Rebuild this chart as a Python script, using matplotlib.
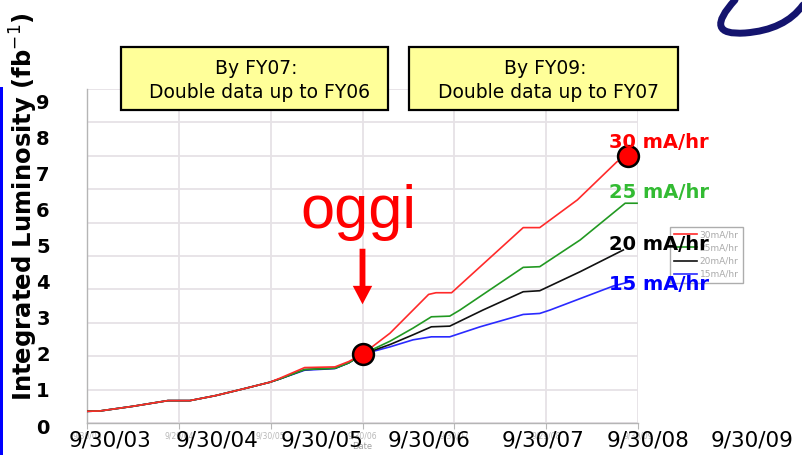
import matplotlib
matplotlib.use("Agg")
import matplotlib.pyplot as plt
from matplotlib.patches import Rectangle, PathPatch
from matplotlib.path import Path
from matplotlib import font_manager

# ---------------- data ----------------
start_year = 2003.75
tick_years = [2003.75, 2004.75, 2005.75, 2006.75, 2007.75, 2008.75, 2009.75]
inner_tick_labels = ["9/30/03", "9/29/04", "9/30/05", "9/30/06", "9/30/07", "9/29/08", "9/30/09"]
overlay_date_labels = ["9/30/03", "9/30/04", "9/30/05", "9/30/06", "9/30/07", "9/30/08", "9/30/09"]
y_labels = ["0", "1", "2", "3", "4", "5", "6", "7", "8", "9"]

# years elapsed since 9/30/03
red_t = [0, 0.14, 0.5, 0.88, 1.12, 1.4, 1.7, 1.99, 2.1, 2.37, 2.7, 2.85, 3.0,
         3.3, 3.55, 3.72, 3.8, 3.97, 4.75, 4.93, 5.34, 5.77, 5.89]
red_v = [0.35, 0.36, 0.5, 0.67, 0.67, 0.82, 1.02, 1.22, 1.34, 1.66, 1.68, 1.84, 2.06,
         2.69, 3.38, 3.85, 3.9, 3.9, 5.85, 5.85, 6.68, 7.82, 8.0]

green_t = [0, 0.14, 0.5, 0.88, 1.12, 1.4, 1.7, 1.99, 2.1, 2.37, 2.7, 2.85, 3.0,
           3.3, 3.55, 3.75, 3.95, 4.06, 4.75, 4.93, 5.37, 5.86, 5.99]
green_v = [0.35, 0.36, 0.5, 0.67, 0.67, 0.82, 1.02, 1.22, 1.32, 1.6, 1.64, 1.8, 2.06,
           2.45, 2.84, 3.18, 3.2, 3.38, 4.66, 4.68, 5.48, 6.58, 6.58]

black_t = [0, 0.14, 0.5, 0.88, 1.12, 1.4, 1.7, 1.99, 2.1, 2.37, 2.7, 2.85, 3.0,
           3.3, 3.55, 3.75, 3.95, 4.31, 4.75, 4.93, 5.37, 5.84]
black_v = [0.35, 0.36, 0.5, 0.67, 0.67, 0.82, 1.02, 1.22, 1.32, 1.6, 1.64, 1.8, 2.06,
           2.35, 2.64, 2.88, 2.9, 3.38, 3.93, 3.96, 4.53, 5.18]

blue_t = [0, 0.14, 0.5, 0.88, 1.12, 1.4, 1.7, 1.99, 2.1, 2.37, 2.7, 2.85, 3.0,
          3.3, 3.55, 3.75, 3.95, 4.28, 4.75, 4.93, 5.04, 5.73, 5.90]
blue_v = [0.35, 0.36, 0.5, 0.67, 0.67, 0.82, 1.02, 1.22, 1.32, 1.58, 1.63, 1.8, 2.06,
          2.28, 2.49, 2.58, 2.58, 2.88, 3.25, 3.28, 3.38, 4.1, 4.22]

series_names = ["30mA/hr", "25mA/hr", "20mA/hr", "15mA/hr"]
rate_labels = ["30 mA/hr", "25 mA/hr", "20 mA/hr", "15 mA/hr"]

today_t, today_v = 3.0, 2.06       # "oggi" point
end_t, end_v = 5.89, 8.0           # end of 30 mA/hr curve

# ---------------- figure ----------------
W, H = 803, 458
fig = plt.figure(figsize=(W / 100, H / 100), dpi=100)
fig.patch.set_facecolor("white")

def fx(px):
    return px / W

def fy(py):
    return 1 - py / H

ax = fig.add_axes([fx(87), fy(423), (638 - 87) / W, (423 - 89) / H])
ax.set_xlim(tick_years[0], tick_years[-1])
ax.set_ylim(0, 10)

line_colors = ["#ff2a2a", "#229922", "#111111", "#2a2aff"]
data = [(red_t, red_v), (green_t, green_v), (black_t, black_v), (blue_t, blue_v)]
handles = []
for i in [3, 2, 1, 0]:
    t, v = data[i]
    xs = [start_year + a for a in t]
    h, = ax.plot(xs, v, color=line_colors[i], lw=1.2, label=series_names[i],
                 solid_joinstyle="round", zorder=3 + (3 - i))
    handles.append(h)
handles = handles[::-1]

ax.set_xticks(tick_years)
ax.set_xticklabels(inner_tick_labels, fontsize=5.5, color="#b8b8b8")
ax.set_yticks(range(0, 11))
ax.set_yticklabels([])
ax.tick_params(axis="x", direction="out", length=4, color="#b8b8b8", pad=2)
ax.tick_params(axis="y", length=0)
ax.grid(True, color="#e6e2e6", lw=1.3, zorder=0)
ax.set_axisbelow(True)
for s in ["top", "right"]:
    ax.spines[s].set_visible(False)
for s in ["left", "bottom"]:
    ax.spines[s].set_color("#b5b5b5")
    ax.spines[s].set_linewidth(1.0)
ax.set_xlabel("Date", fontsize=6, color="#a0a0a0", labelpad=1)

# red dots with black edge
ax.plot([start_year + today_t, start_year + end_t], [today_v, end_v], "o",
        ms=15, mfc="#ff0000", mec="black", mew=1.8, zorder=10, clip_on=False)

# inner legend
leg = fig.legend(handles, series_names, loc="upper left",
                 bbox_to_anchor=(fx(665), fy(222)), fontsize=6.5,
                 frameon=True, fancybox=False, edgecolor="#999999",
                 handlelength=2.6, borderpad=0.45, labelspacing=0.45,
                 handletextpad=0.3)
leg.get_frame().set_linewidth(1.0)
for txt in leg.get_texts():
    txt.set_color("#aaaaaa")
leg.set_zorder(1)

# oggi text and arrow
try:
    font_manager.findfont("Liberation Sans Narrow", fallback_to_default=False)
    oggi_family, oggi_size = "Liberation Sans Narrow", 50
except Exception:
    oggi_family, oggi_size = "Liberation Sans", 44
ax.text(start_year + today_t - 0.04, 5.84, "oggi", ha="center", va="baseline",
        color="#ff0000", fontsize=oggi_size, family=oggi_family, zorder=12)
ax.annotate("", xy=(start_year + today_t, 3.47), xytext=(start_year + today_t, 5.3),
            arrowprops=dict(arrowstyle="simple,tail_width=0.3,head_width=1.0,head_length=0.95",
                            mutation_scale=14, color="#ff0000", lw=0),
            zorder=12)

# rate labels (figure pixel positions)
rate_colors = ["#ff0000", "#33bb33", "#000000", "#0000ff"]
rate_y = [143, 193, 244, 284]
for lab, c, yy in zip(rate_labels, rate_colors, rate_y):
    fig.text(fx(609), fy(yy), lab, color=c, fontsize=14, fontweight="bold",
             ha="left", va="center", zorder=20)

# yellow boxes
boxes = [(121, 388, "By FY07:", " Double data up to FY06"),
         (409, 678, "By FY09:", " Double data up to FY07")]
for x0, x1, l1, l2 in boxes:
    r = Rectangle((fx(x0), fy(110)), (x1 - x0) / W, (110 - 47) / H,
                  transform=fig.transFigure, facecolor="#ffff99",
                  edgecolor="black", lw=1.6, zorder=15)
    fig.add_artist(r)
    xc = (x0 + x1) / 2 + 2
    fig.text(fx(xc), fy(68), l1, ha="center", va="center", fontsize=13.5, zorder=16)
    fig.text(fx(xc), fy(93), l2, ha="center", va="center", fontsize=13.5, zorder=16)

# overlay y tick digits
for i, lab in enumerate(y_labels):
    ypix = 428 - i * 36.1
    fig.text(fx(43), fy(ypix), lab, ha="center", va="center", fontsize=14,
             fontweight="bold", zorder=20)

# overlay date labels
date_centers = [110, 217, 322, 429, 543, 648, 752]
for xc, lab in zip(date_centers, overlay_date_labels):
    fig.text(fx(xc), fy(441), lab, ha="center", va="center", fontsize=15.5, zorder=20)

# y axis title
fig.text(fx(24), fy(207), "Integrated Luminosity (fb$^{-1}$)", rotation=90,
         ha="center", va="center", fontsize=17.5, fontweight="bold", zorder=20)

# left blue bar
fig.add_artist(Rectangle((0, fy(455)), 3 / W, (455 - 87) / H,
                         transform=fig.transFigure, facecolor="#0000ff",
                         edgecolor="none", zorder=20))

# logo swoosh (decoration)
verts = [(fx(735), fy(0)), (fx(702), fy(36)), (fx(745), fy(33)),
         (fx(785), fy(30)), (fx(803), fy(5))]
codes = [Path.MOVETO, Path.CURVE3, Path.CURVE3, Path.CURVE3, Path.CURVE3]
fig.add_artist(PathPatch(Path(verts, codes), transform=fig.transFigure,
                         facecolor="none", edgecolor="#14146e", lw=5, zorder=20,
                         capstyle="round"))

fig.savefig("out.png", dpi=100)
